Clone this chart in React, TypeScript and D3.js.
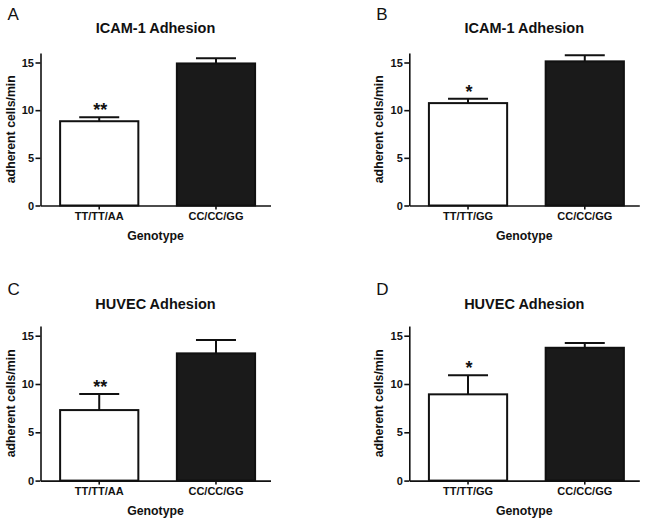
import React, { useRef, useEffect } from "react";
import * as d3 from "d3";

const panelLetters = ["A", "B", "C", "D"];
const panelTitles = ["ICAM-1 Adhesion", "ICAM-1 Adhesion", "HUVEC Adhesion", "HUVEC Adhesion"];
const panelCategories = [
  ["TT/TT/AA", "CC/CC/GG"],
  ["TT/TT/GG", "CC/CC/GG"],
  ["TT/TT/AA", "CC/CC/GG"],
  ["TT/TT/GG", "CC/CC/GG"],
];
const panelMeans = [
  [8.84, 14.9],
  [10.74, 15.12],
  [7.3, 13.17],
  [8.93, 13.75],
];
const panelErrors = [
  [0.43, 0.54],
  [0.46, 0.63],
  [1.67, 1.38],
  [1.97, 0.49],
];
const panelStars = ["**", "*", "**", "*"];
const yTicks = [0, 5, 10, 15];
const yLabel = "adherent cells/min";
const xLabel = "Genotype";

const FONT = "'Liberation Sans', Arial, Helvetica, sans-serif";

const App: React.FC = () => {
  const svgRef = useRef<SVGSVGElement | null>(null);

  useEffect(() => {
    if (!svgRef.current) return;
    const svg = d3.select(svgRef.current);
    svg.selectAll("*").remove();

    // panel geometry: axis left x, zero line y, 15-tick y
    const cols = [40.5, 409.3];
    const rows = [
      { y0: 205.5, y15: 62.5 },
      { y0: 480.6, y15: 335.7 },
    ];
    const plotW = 230;

    panelLetters.forEach((letter, i) => {
      const ax = cols[i % 2];
      const { y0, y15 } = rows[Math.floor(i / 2)];
      const unit = (y0 - y15) / 15;

      const y = d3.scaleLinear().domain([0, 16]).range([y0, y0 - 16 * unit]);
      const x = d3
        .scaleBand<string>()
        .domain(panelCategories[i])
        .range([ax, ax + plotW])
        .paddingInner(0.33)
        .paddingOuter(0.15)
        .align(0.56);

      const g = svg.append("g").attr("font-family", FONT);

      // panel letter
      g.append("text")
        .attr("x", ax - 33)
        .attr("y", y0 - 186)
        .attr("font-size", 17)
        .attr("fill", "#111")
        .text(letter);

      // title
      g.append("text")
        .attr("x", ax + plotW / 2)
        .attr("y", y0 - 172.5 + (i >= 2 ? 1 : 0))
        .attr("text-anchor", "middle")
        .attr("font-size", 14.5)
        .attr("font-weight", "bold")
        .attr("fill", "#111")
        .text(panelTitles[i]);

      // bars
      panelCategories[i].forEach((cat, j) => {
        const v = panelMeans[i][j];
        const e = panelErrors[i][j];
        const cx = (x(cat) as number) + x.bandwidth() / 2;

        // error bar (upper only)
        g.append("line")
          .attr("x1", cx)
          .attr("x2", cx)
          .attr("y1", y(v))
          .attr("y2", y(v + e))
          .attr("stroke", "#111")
          .attr("stroke-width", 2);
        g.append("line")
          .attr("x1", cx - 20)
          .attr("x2", cx + 20)
          .attr("y1", y(v + e))
          .attr("y2", y(v + e))
          .attr("stroke", "#111")
          .attr("stroke-width", 2);

        g.append("rect")
          .attr("x", x(cat) as number)
          .attr("y", y(v))
          .attr("width", x.bandwidth())
          .attr("height", y(0) - y(v))
          .attr("fill", j === 0 ? "#ffffff" : "#1a1a1a")
          .attr("stroke", "#111")
          .attr("stroke-width", 2);

        if (j === 0) {
          g.append("text")
            .attr("x", cx + 1)
            .attr("y", y(v + e) - 1)
            .attr("text-anchor", "middle")
            .attr("font-size", 18)
            .attr("font-weight", "bold")
            .attr("fill", "#111")
            .text(panelStars[i]);
        }
      });

      // y axis
      g.append("g")
        .attr("transform", `translate(${ax},0)`)
        .call(
          d3
            .axisLeft(y)
            .tickValues(yTicks)
            .tickSize(5)
            .tickSizeOuter(0)
            .tickPadding(1.5)
        )
        .call((s) => s.select(".domain").attr("stroke", "#111").attr("stroke-width", 1.6))
        .call((s) => s.selectAll(".tick line").attr("stroke", "#111").attr("stroke-width", 1.6))
        .call((s) =>
          s
            .selectAll(".tick text")
            .attr("fill", "#111")
            .attr("font-size", 11)
            .attr("font-weight", "bold")
            .attr("font-family", FONT)
        );

      // x axis
      g.append("g")
        .attr("transform", `translate(0,${y0})`)
        .call(d3.axisBottom(x).tickSize(4).tickSizeOuter(0).tickPadding(3))
        .call((s) => s.select(".domain").attr("stroke", "#111").attr("stroke-width", 1.6))
        .call((s) => s.selectAll(".tick line").attr("stroke", "#111").attr("stroke-width", 1.6))
        .call((s) =>
          s
            .selectAll(".tick text")
            .attr("fill", "#111")
            .attr("font-size", 11)
            .attr("font-weight", "bold")
            .attr("font-family", FONT)
        );

      // axis titles
      g.append("text")
        .attr("transform", `translate(${ax - 26},${(y(0) + y(16)) / 2}) rotate(-90)`)
        .attr("text-anchor", "middle")
        .attr("font-size", 12.3)
        .attr("font-weight", "bold")
        .attr("fill", "#111")
        .text(yLabel);

      g.append("text")
        .attr("x", ax + plotW / 2)
        .attr("y", y0 + 34)
        .attr("text-anchor", "middle")
        .attr("font-size", 12.3)
        .attr("font-weight", "bold")
        .attr("fill", "#111")
        .text(xLabel);
    });
  }, []);

  return (
    <svg
      ref={svgRef}
      width={649}
      height={523}
      style={{ position: "absolute", left: 0, top: 0, background: "#fff" }}
    />
  );
};

export default App;
